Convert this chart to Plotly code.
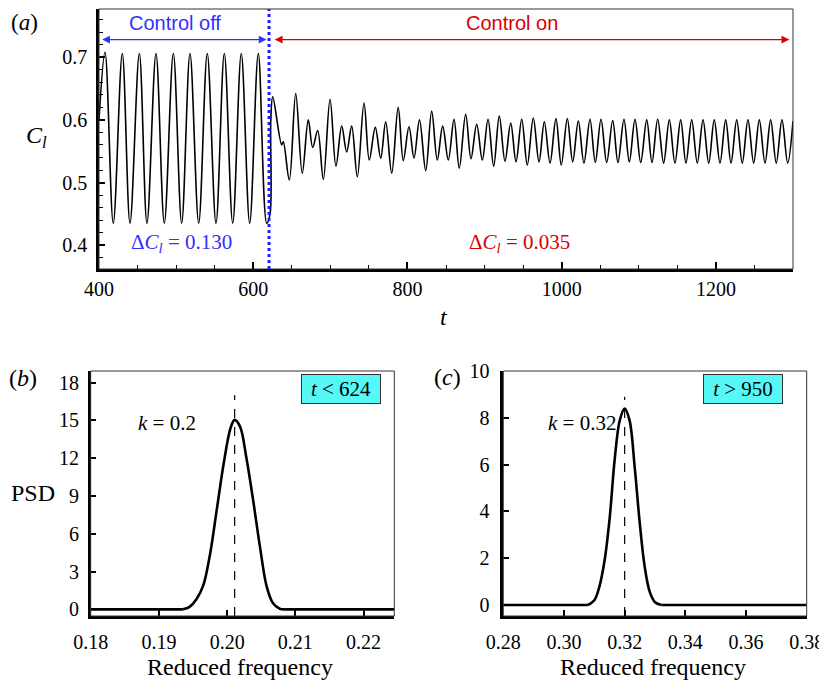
import plotly.graph_objects as go

# ---------------- data ----------------
# (a) lift coefficient time history: extrema
t_off = [400.0, 407.8, 418.5, 430.2, 440.2, 452.3, 462.2, 473.9, 484.7, 496.4,
         507.2, 518.0, 529.3, 540.4, 551.7, 562.5, 573.4, 584.5, 595.4, 606.6,
         617.5, 621.8]
cl_off = [0.600, 0.708, 0.435, 0.706, 0.435, 0.706, 0.435, 0.706, 0.435, 0.706,
          0.435, 0.706, 0.435, 0.706, 0.435, 0.706, 0.435, 0.706, 0.435, 0.706,
          0.435, 0.450]

t_on = [622.8, 625.3, 636.9, 639.0, 646.8, 655.1, 663.6, 671.4, 677.1, 683.6,
        690.9, 699.6, 707.3, 714.7, 721.2, 727.7, 735.0, 743.7, 750.5, 758.3,
        765.3, 771.8, 779.6, 788.0, 794.6, 802.0, 808.5, 815.6, 823.7, 831.4,
        838.7, 845.7, 853.0, 860.4, 867.2, 875.5, 882.4, 889.8, 897.1, 904.5,
        911.8, 919.1, 926.5, 933.9, 940.8, 948.2, 955.4, 963.2, 970.6, 977.5,
        984.9, 992.6, 999.5, 1007.3, 1014.3, 1021.6, 1028.9, 1036.7, 1043.6, 1051.0,
        1058.4, 1066.2, 1073.0, 1080.8, 1087.7, 1095.1, 1102.5, 1110.3, 1117.1, 1124.5,
        1132.2, 1139.6, 1146.9, 1154.3, 1161.2, 1168.6, 1175.9, 1183.3, 1190.7, 1197.9,
        1205.3, 1212.7, 1219.6, 1227.0, 1234.2, 1241.6, 1249.0, 1256.3, 1263.7, 1271.0,
        1278.3, 1285.7, 1293.1, 1300.0]
cl_on = [0.600, 0.637, 0.560, 0.565, 0.504, 0.642, 0.515, 0.600, 0.556, 0.583,
         0.505, 0.633, 0.526, 0.590, 0.549, 0.590, 0.509, 0.627, 0.536, 0.588,
         0.539, 0.597, 0.515, 0.620, 0.535, 0.589, 0.539, 0.600, 0.519, 0.614,
         0.536, 0.590, 0.536, 0.601, 0.523, 0.609, 0.538, 0.593, 0.536, 0.601,
         0.526, 0.606, 0.534, 0.595, 0.533, 0.601, 0.528, 0.603, 0.533, 0.597,
         0.531, 0.602, 0.528, 0.602, 0.533, 0.598, 0.531, 0.601, 0.532, 0.601,
         0.532, 0.599, 0.532, 0.601, 0.533, 0.601, 0.532, 0.600, 0.532, 0.601,
         0.531, 0.600, 0.531, 0.600, 0.531, 0.600, 0.531, 0.600, 0.531, 0.600,
         0.531, 0.600, 0.531, 0.600, 0.531, 0.600, 0.531, 0.600, 0.531, 0.600,
         0.531, 0.600, 0.531, 0.598]

T_CONTROL = 620.5
t_ticks = [400, 600, 800, 1000, 1200]
cl_ticks = [0.4, 0.5, 0.6, 0.7]

# (b) PSD, t < 624
f_b = [0.1800, 0.1935, 0.1945, 0.1955, 0.1965, 0.1975, 0.1985, 0.1995, 0.2005,
       0.2011, 0.2019, 0.2028, 0.2038, 0.2048, 0.2058, 0.2067, 0.2077, 0.2085, 0.2245]
psd_b = [0, 0, 0.2, 0.8, 1.9, 4.4, 8.0, 11.6, 14.4,
         15.05, 14.5, 12.1, 8.7, 5.0, 1.8, 0.5, 0.05, 0, 0]
K_B = 0.2011
fb_ticks = [0.18, 0.19, 0.20, 0.21, 0.22]
fb_labels = ["0.18", "0.19", "0.20", "0.21", "0.22"]
psdb_ticks = [0, 3, 6, 9, 12, 15, 18]

# (c) PSD, t > 950
f_c = [0.280, 0.3079, 0.3100, 0.3117, 0.3134, 0.3151, 0.3167, 0.3184, 0.3200,
       0.3216, 0.3233, 0.3249, 0.3266, 0.3283, 0.3300, 0.3321, 0.380]
psd_c = [0, 0, 0.2, 0.8, 1.92, 3.77, 6.2, 7.9, 8.4,
         7.9, 5.9, 3.6, 1.64, 0.55, 0.12, 0, 0]
K_C = 0.320
fc_ticks = [0.28, 0.30, 0.32, 0.34, 0.36, 0.38]
fc_labels = ["0.28", "0.30", "0.32", "0.34", "0.36", "0.38"]
psdc_ticks = [0, 2, 4, 6, 8, 10]

# ---------------- figure ----------------
# the page body has an 8 px margin: the figure is sized to end at the window edge
OFF = 8
W, H = 827 - OFF, 681 - OFF
SERIF = "Liberation Serif"
SANS = "Liberation Sans"
BLUE = "#3030ff"
RED = "#d90000"
CYAN = "#55f7f7"


def px(x):
    return min(1.0, max(0.0, (x - OFF) / W))


def py(y):
    return min(1.0, max(0.0, 1 - (y - OFF) / H))


fig = go.Figure()
fig.update_layout(template="none")

fig.add_trace(go.Scatter(x=t_off + t_on, y=cl_off + cl_on, mode="lines",
                         line=dict(color="black", width=1.6, shape="spline", smoothing=1.0),
                         xaxis="x", yaxis="y", showlegend=False, hoverinfo="skip"))

for fx, ps, xa, ya in ((f_b, psd_b, "x2", "y2"), (f_c, psd_c, "x3", "y3")):
    # flat baseline parts (straight) and the peak (smoothed)
    for seg, shp in ((slice(0, 2), "linear"), (slice(1, len(fx) - 1), "spline"),
                     (slice(len(fx) - 2, len(fx)), "linear")):
        fig.add_trace(go.Scatter(x=fx[seg], y=ps[seg], mode="lines",
                                 line=dict(color="black", width=2.6, shape=shp, smoothing=1.0),
                                 xaxis=xa, yaxis=ya, showlegend=False, hoverinfo="skip"))


def axis_common(**kw):
    d = dict(ticks="inside", ticklen=7, tickwidth=1.5, tickcolor="black",
             showline=True, linewidth=2.5, linecolor="black", showgrid=False,
             zeroline=False, automargin=False,
             tickfont=dict(family=SERIF, size=20, color="black"),
             fixedrange=True)
    d.update(kw)
    return d


fig.update_layout(
    width=W, height=H,
    margin=dict(l=0, r=0, t=0, b=0, pad=0),
    paper_bgcolor="white", plot_bgcolor="white",
    font=dict(family=SERIF, size=20, color="black"),
    xaxis=axis_common(domain=[px(99), px(793)], anchor="y", range=[400, 1300],
                      tickmode="array", tickvals=t_ticks, ticklabelstandoff=0,
                      minor=dict(tick0=400, dtick=50, ticks="inside", ticklen=4,
                                 tickwidth=1.2, tickcolor="black", showgrid=False)),
    yaxis=axis_common(domain=[py(269), py(9)], anchor="x", range=[0.362, 0.777],
                      tickmode="array", tickvals=cl_ticks, ticklen=6, ticklabelstandoff=5,
                      minor=dict(tick0=0.4, dtick=0.02, ticks="inside", ticklen=4,
                                 tickwidth=1.2, tickcolor="black", showgrid=False)),
    xaxis2=axis_common(domain=[px(90.7), px(394.3)], anchor="y2", range=[0.18, 0.2245],
                       tickmode="array", tickvals=fb_ticks, ticktext=fb_labels,
                       ticklen=6, ticklabelstandoff=6),
    yaxis2=axis_common(domain=[py(616), py(371)], anchor="x2", range=[-0.53, 18.93],
                       tickmode="array", tickvals=psdb_ticks, ticklen=6, ticklabelstandoff=5),
    xaxis3=axis_common(domain=[px(503.3), px(806.7)], anchor="y3", range=[0.28, 0.38],
                       tickmode="array", tickvals=fc_ticks, ticktext=fc_labels,
                       ticklen=6, ticklabelstandoff=6),
    yaxis3=axis_common(domain=[py(616), py(371)], anchor="x3", range=[-0.47, 10],
                       tickmode="array", tickvals=psdc_ticks, ticklen=6, ticklabelstandoff=7),
)

shapes = []
# thin frames (top / right)
for xr, yr in (("x", "y"), ("x2", "y2"), ("x3", "y3")):
    shapes.append(dict(type="rect", xref=f"{xr} domain", yref=f"{yr} domain",
                       x0=0, x1=1, y0=0, y1=1, line=dict(color="#333333", width=1),
                       fillcolor="rgba(0,0,0,0)", layer="above"))
# control switch line
shapes.append(dict(type="line", xref="x", yref="y domain", x0=T_CONTROL, x1=T_CONTROL,
                   y0=0, y1=1, line=dict(color="#1c1cff", width=3, dash="dot")))
# peak markers
shapes.append(dict(type="line", xref="x2", yref="y2", x0=K_B, x1=K_B, y0=-0.53, y1=17.0,
                   line=dict(color="black", width=1.2, dash="dash")))
shapes.append(dict(type="line", xref="x3", yref="y3", x0=K_C, x1=K_C, y0=-0.47, y1=8.9,
                   line=dict(color="black", width=1.2, dash="dash")))
fig.update_layout(shapes=shapes)

ann = []
# arrows
ann.append(dict(x=617.3, y=0.7282, ax=402.1, ay=0.7282, xref="x", yref="y",
                axref="x", ayref="y", text="", showarrow=True, arrowside="end+start",
                arrowhead=2, arrowsize=1.3, arrowwidth=1.2, arrowcolor=BLUE))
ann.append(dict(x=1295.2, y=0.7282, ax=626.0, ay=0.7282, xref="x", yref="y",
                axref="x", ayref="y", text="", showarrow=True, arrowside="end+start",
                arrowhead=2, arrowsize=1.3, arrowwidth=1.2, arrowcolor=RED))


def label(x, y, text, size=24, **kw):
    d = dict(x=px(x), y=py(y), xref="paper", yref="paper", text=text,
             showarrow=False, xanchor="center", yanchor="middle",
             font=dict(family=kw.pop("family", SERIF), size=size,
                       color=kw.pop("color", "black")))
    d.update(kw)
    ann.append(d)


label(175, 23.3, "Control off", 20, family=SANS, color=BLUE)
label(511.7, 23.3, "Control on", 20, family=SANS, color=RED)
label(181.7, 242.7, "Δ<i>C<sub>l</sub></i> = 0.130", 21, color=BLUE)
label(519.3, 242.7, "Δ<i>C<sub>l</sub></i> = 0.035", 21, color=RED)
# axis titles and panel labels
label(36.7, 136.7, "<i>C<sub>l</sub></i>", 24)
label(444.3, 316.7, "<i>t</i>", 24)
label(24, 22, "(<i>a</i>)", 23)
label(22.5, 378.3, "(<i>b</i>)", 24)
label(447.3, 376.7, "(<i>c</i>)", 24)
label(33.3, 493.3, "PSD", 24)
label(240, 666.7, "Reduced frequency", 24)
label(653.3, 666.7, "Reduced frequency", 24)
label(166.7, 423.3, "<i>k</i> = 0.2", 21)
label(581.7, 423.3, "<i>k</i> = 0.32", 21)
label(341, 389.3, "<i>t</i> &lt; 624", 21, bgcolor=CYAN, bordercolor="#333333",
      borderwidth=1, borderpad=0, width=78, height=28)
label(743, 389.3, "<i>t</i> &gt; 950", 21, bgcolor=CYAN, bordercolor="#333333",
      borderwidth=1, borderpad=0, width=78, height=28)
fig.update_layout(annotations=ann)

fig.write_html("out.html")
